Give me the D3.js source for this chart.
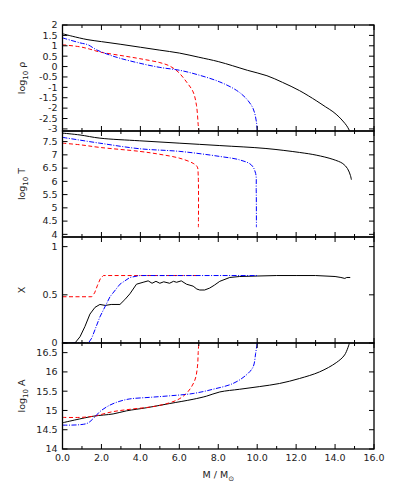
<!DOCTYPE html>
<html>
<head>
<meta charset="utf-8">
<script src="https://cdn.jsdelivr.net/npm/d3@7"></script>
<style>
  body { margin: 0; background: #fff; }
  svg text { font-family: "DejaVu Sans", sans-serif; fill: #222; }
</style>
</head>
<body>
<div id="chart"></div>
<script>
// data: [mass, value] pairs
const massTicks = [0, 2, 4, 6, 8, 10, 12, 14, 16];

const rhoBlack = [[0,1.58],[0.5,1.46],[1.26,1.3],[2,1.2],[3,1.07],[4,0.93],[5,0.79],[6,0.65],[7,0.45],[8,0.24],[8.74,0.04],[9.5,-0.18],[10.5,-0.44],[11.3,-0.76],[12.18,-1.16],[13.03,-1.64],[13.5,-1.93],[13.89,-2.17],[14.2,-2.42],[14.4,-2.62],[14.6,-2.85],[14.75,-3.1]];
const rhoRed = [[0,1.05],[0.9,0.95],[1.4,0.84],[1.92,0.7],[2.95,0.54],[3.97,0.38],[5,0.19],[5.5,0.03],[5.94,-0.26],[6.37,-0.74],[6.71,-1.22],[6.88,-1.86],[6.97,-2.8],[7.0,-3.1]];
const rhoBlue = [[0,1.38],[0.9,1.14],[1.3,1.05],[1.76,0.8],[2.44,0.55],[2.95,0.4],[3.97,0.16],[5,-0.04],[6.03,-0.18],[7.05,-0.42],[8.08,-0.74],[8.93,-1.14],[9.44,-1.54],[9.79,-2.02],[9.96,-2.66],[10,-3.1]];

const tBlack = [[0,7.82],[0.9,7.75],[1.92,7.63],[3.97,7.53],[6.03,7.44],[8.08,7.35],[10.45,7.24],[12.18,7.09],[13.03,6.99],[13.89,6.83],[14.4,6.67],[14.64,6.48],[14.79,6.22],[14.84,6.06]];
const tRed = [[0,7.44],[0.9,7.38],[1.92,7.28],[3.97,7.13],[5,7.02],[6.03,6.87],[6.71,6.68],[6.92,6.55],[6.97,6.24],[6.98,4.27]];
const tBlue = [[0,7.66],[1.92,7.44],[3.97,7.23],[6.03,7.13],[8.08,6.94],[9.1,6.81],[9.7,6.62],[9.92,6.3],[9.95,5.7],[9.96,4.27]];

const xBlack = [[0,0],[0.64,0],[0.9,0.065],[1.15,0.17],[1.41,0.3],[1.67,0.37],[1.92,0.4],[2.2,0.39],[2.5,0.4],[2.95,0.4],[3.2,0.45],[3.46,0.51],[3.8,0.61],[4.14,0.63],[4.4,0.645],[4.6,0.62],[4.8,0.64],[5.0,0.62],[5.2,0.635],[5.5,0.62],[5.7,0.64],[5.86,0.63],[6.1,0.645],[6.37,0.61],[6.71,0.59],[6.9,0.56],[7.05,0.55],[7.3,0.55],[7.56,0.57],[7.8,0.6],[8.08,0.64],[8.59,0.68],[9.1,0.69],[10,0.695],[11,0.7],[12,0.7],[13,0.7],[14,0.69],[14.3,0.68],[14.5,0.67],[14.6,0.68],[14.78,0.68]];
const xRed = [[0,0.48],[1.5,0.48],[1.65,0.52],[1.8,0.6],[1.95,0.67],[2.1,0.7],[7,0.7]];
const xBlue = [[0,0],[1.33,0],[1.5,0.05],[1.92,0.27],[2.44,0.48],[2.95,0.61],[3.46,0.68],[3.97,0.7],[10,0.7]];

const aBlack = [[0,14.68],[1.58,14.85],[2.6,14.91],[3.29,14.99],[4.31,15.07],[5.51,15.18],[6.71,15.29],[7.39,15.37],[8.08,15.48],[9.1,15.55],[10.13,15.62],[11.15,15.7],[12.18,15.83],[13.2,16.0],[14.06,16.24],[14.49,16.44],[14.74,16.75]];
const aRed = [[0,14.82],[0.9,14.82],[1.58,14.85],[2.6,14.97],[3.63,15.04],[4.66,15.1],[5.51,15.2],[6.03,15.31],[6.45,15.49],[6.8,15.79],[6.93,16.13],[6.97,16.5],[7,16.75]];
const aBlue = [[0,14.62],[1.24,14.66],[1.58,14.79],[1.92,14.97],[2.44,15.14],[2.95,15.24],[3.46,15.3],[4.48,15.34],[5.51,15.38],[6.71,15.44],[7.73,15.55],[8.76,15.7],[9.44,15.92],[9.79,16.13],[9.92,16.48],[10,16.75]];

const panels = [
    { label: "ρ", sub: true, domain: [-3.1, 2], ticks: d3.range(-3, 2.01, 0.5), series: [rhoBlack, rhoRed, rhoBlue], curve: d3.curveCatmullRom },
    { label: "T", sub: true, domain: [3.9, 7.9], ticks: d3.range(4, 7.51, 0.5), series: [tBlack, tRed, tBlue], curve: d3.curveCatmullRom },
    { label: "X", sub: false, domain: [0, 1.1], ticks: [0, 0.5, 1], series: [xBlack, xRed, xBlue], curve: d3.curveLinear },
    { label: "A", sub: true, domain: [14, 16.75], ticks: d3.range(14, 16.51, 0.5), series: [aBlack, aRed, aBlue], curve: d3.curveCatmullRom }
];

const styles = [
    { color: "#000", dash: null },
    { color: "#ff0000", dash: "4,2.5" },
    { color: "#0000ff", dash: "5,1.5,1,1.5" }
];

const width = 415, height = 498;
const plotLeft = 62.5, plotRight = 374, plotTop = 25, panelH = 106;

const svg = d3.select("#chart").append("svg")
    .attr("width", width)
    .attr("height", height);

const x = d3.scaleLinear().domain([0, 16]).range([plotLeft, plotRight]);

panels.forEach((p, i) => {
    const y0 = plotTop + i * panelH;
    const y = d3.scaleLinear().domain(p.domain).range([y0 + panelH, y0]);

    svg.append("clipPath").attr("id", "clip" + i)
        .append("rect").attr("x", plotLeft).attr("y", y0).attr("width", plotRight - plotLeft).attr("height", panelH);

    const g = svg.append("g");

    // curves
    const line = d3.line().x(d => x(d[0])).y(d => y(d[1])).curve(p.curve);
    p.series.forEach((s, k) => {
        g.append("path")
            .attr("clip-path", `url(#clip${i})`)
            .attr("d", line(s))
            .attr("fill", "none")
            .attr("stroke", styles[k].color)
            .attr("stroke-width", 1)
            .attr("stroke-dasharray", styles[k].dash);
    });

    // x ticks, inward, top and bottom
    d3.range(0, 16.01, 1).forEach(m => {
        const len = m % 2 === 0 ? 5 : 3;
        g.append("line").attr("x1", x(m)).attr("x2", x(m)).attr("y1", y0 + panelH).attr("y2", y0 + panelH - len)
            .attr("stroke", "#000").attr("stroke-width", 1);
        g.append("line").attr("x1", x(m)).attr("x2", x(m)).attr("y1", y0).attr("y2", y0 + len)
            .attr("stroke", "#000").attr("stroke-width", 1);
    });

    // y ticks, inward, left and right
    p.ticks.forEach(v => {
        g.append("line").attr("x1", plotLeft).attr("x2", plotLeft + 5).attr("y1", y(v)).attr("y2", y(v))
            .attr("stroke", "#000").attr("stroke-width", 1);
        g.append("line").attr("x1", plotRight).attr("x2", plotRight - 5).attr("y1", y(v)).attr("y2", y(v))
            .attr("stroke", "#000").attr("stroke-width", 1);
        g.append("text")
            .attr("x", plotLeft - 5)
            .attr("y", y(v))
            .attr("dy", "0.35em")
            .attr("text-anchor", "end")
            .attr("font-size", 9.5)
            .text(String(+v.toFixed(1)));
    });

    // frame
    g.append("rect")
        .attr("x", plotLeft).attr("y", y0)
        .attr("width", plotRight - plotLeft).attr("height", panelH)
        .attr("fill", "none")
        .attr("stroke", "#000")
        .attr("stroke-width", 1.3);

    // y label
    const lab = g.append("text")
        .attr("transform", `translate(25, ${y0 + panelH / 2}) rotate(-90)`)
        .attr("text-anchor", "middle")
        .attr("font-size", 9.5);
    if (p.sub) {
        lab.append("tspan").text("log");
        lab.append("tspan").attr("font-size", 7).attr("dy", 2.5).text("10");
        lab.append("tspan").attr("dy", -2.5).text(" " + p.label);
    } else {
        lab.text(p.label);
    }
});

// x tick labels on bottom panel
const plotBottom = plotTop + panels.length * panelH;
massTicks.forEach(m => {
    svg.append("text")
        .attr("x", x(m))
        .attr("y", plotBottom + 12)
        .attr("text-anchor", "middle")
        .attr("font-size", 9.5)
        .text(m.toFixed(1));
});

const xl = svg.append("text")
    .attr("x", (plotLeft + plotRight) / 2)
    .attr("y", plotBottom + 29)
    .attr("text-anchor", "middle")
    .attr("font-size", 9.5);
xl.append("tspan").text("M / M");
xl.append("tspan").attr("font-size", 7).attr("dy", 2.5).text("⊙");
</script>
</body>
</html>
